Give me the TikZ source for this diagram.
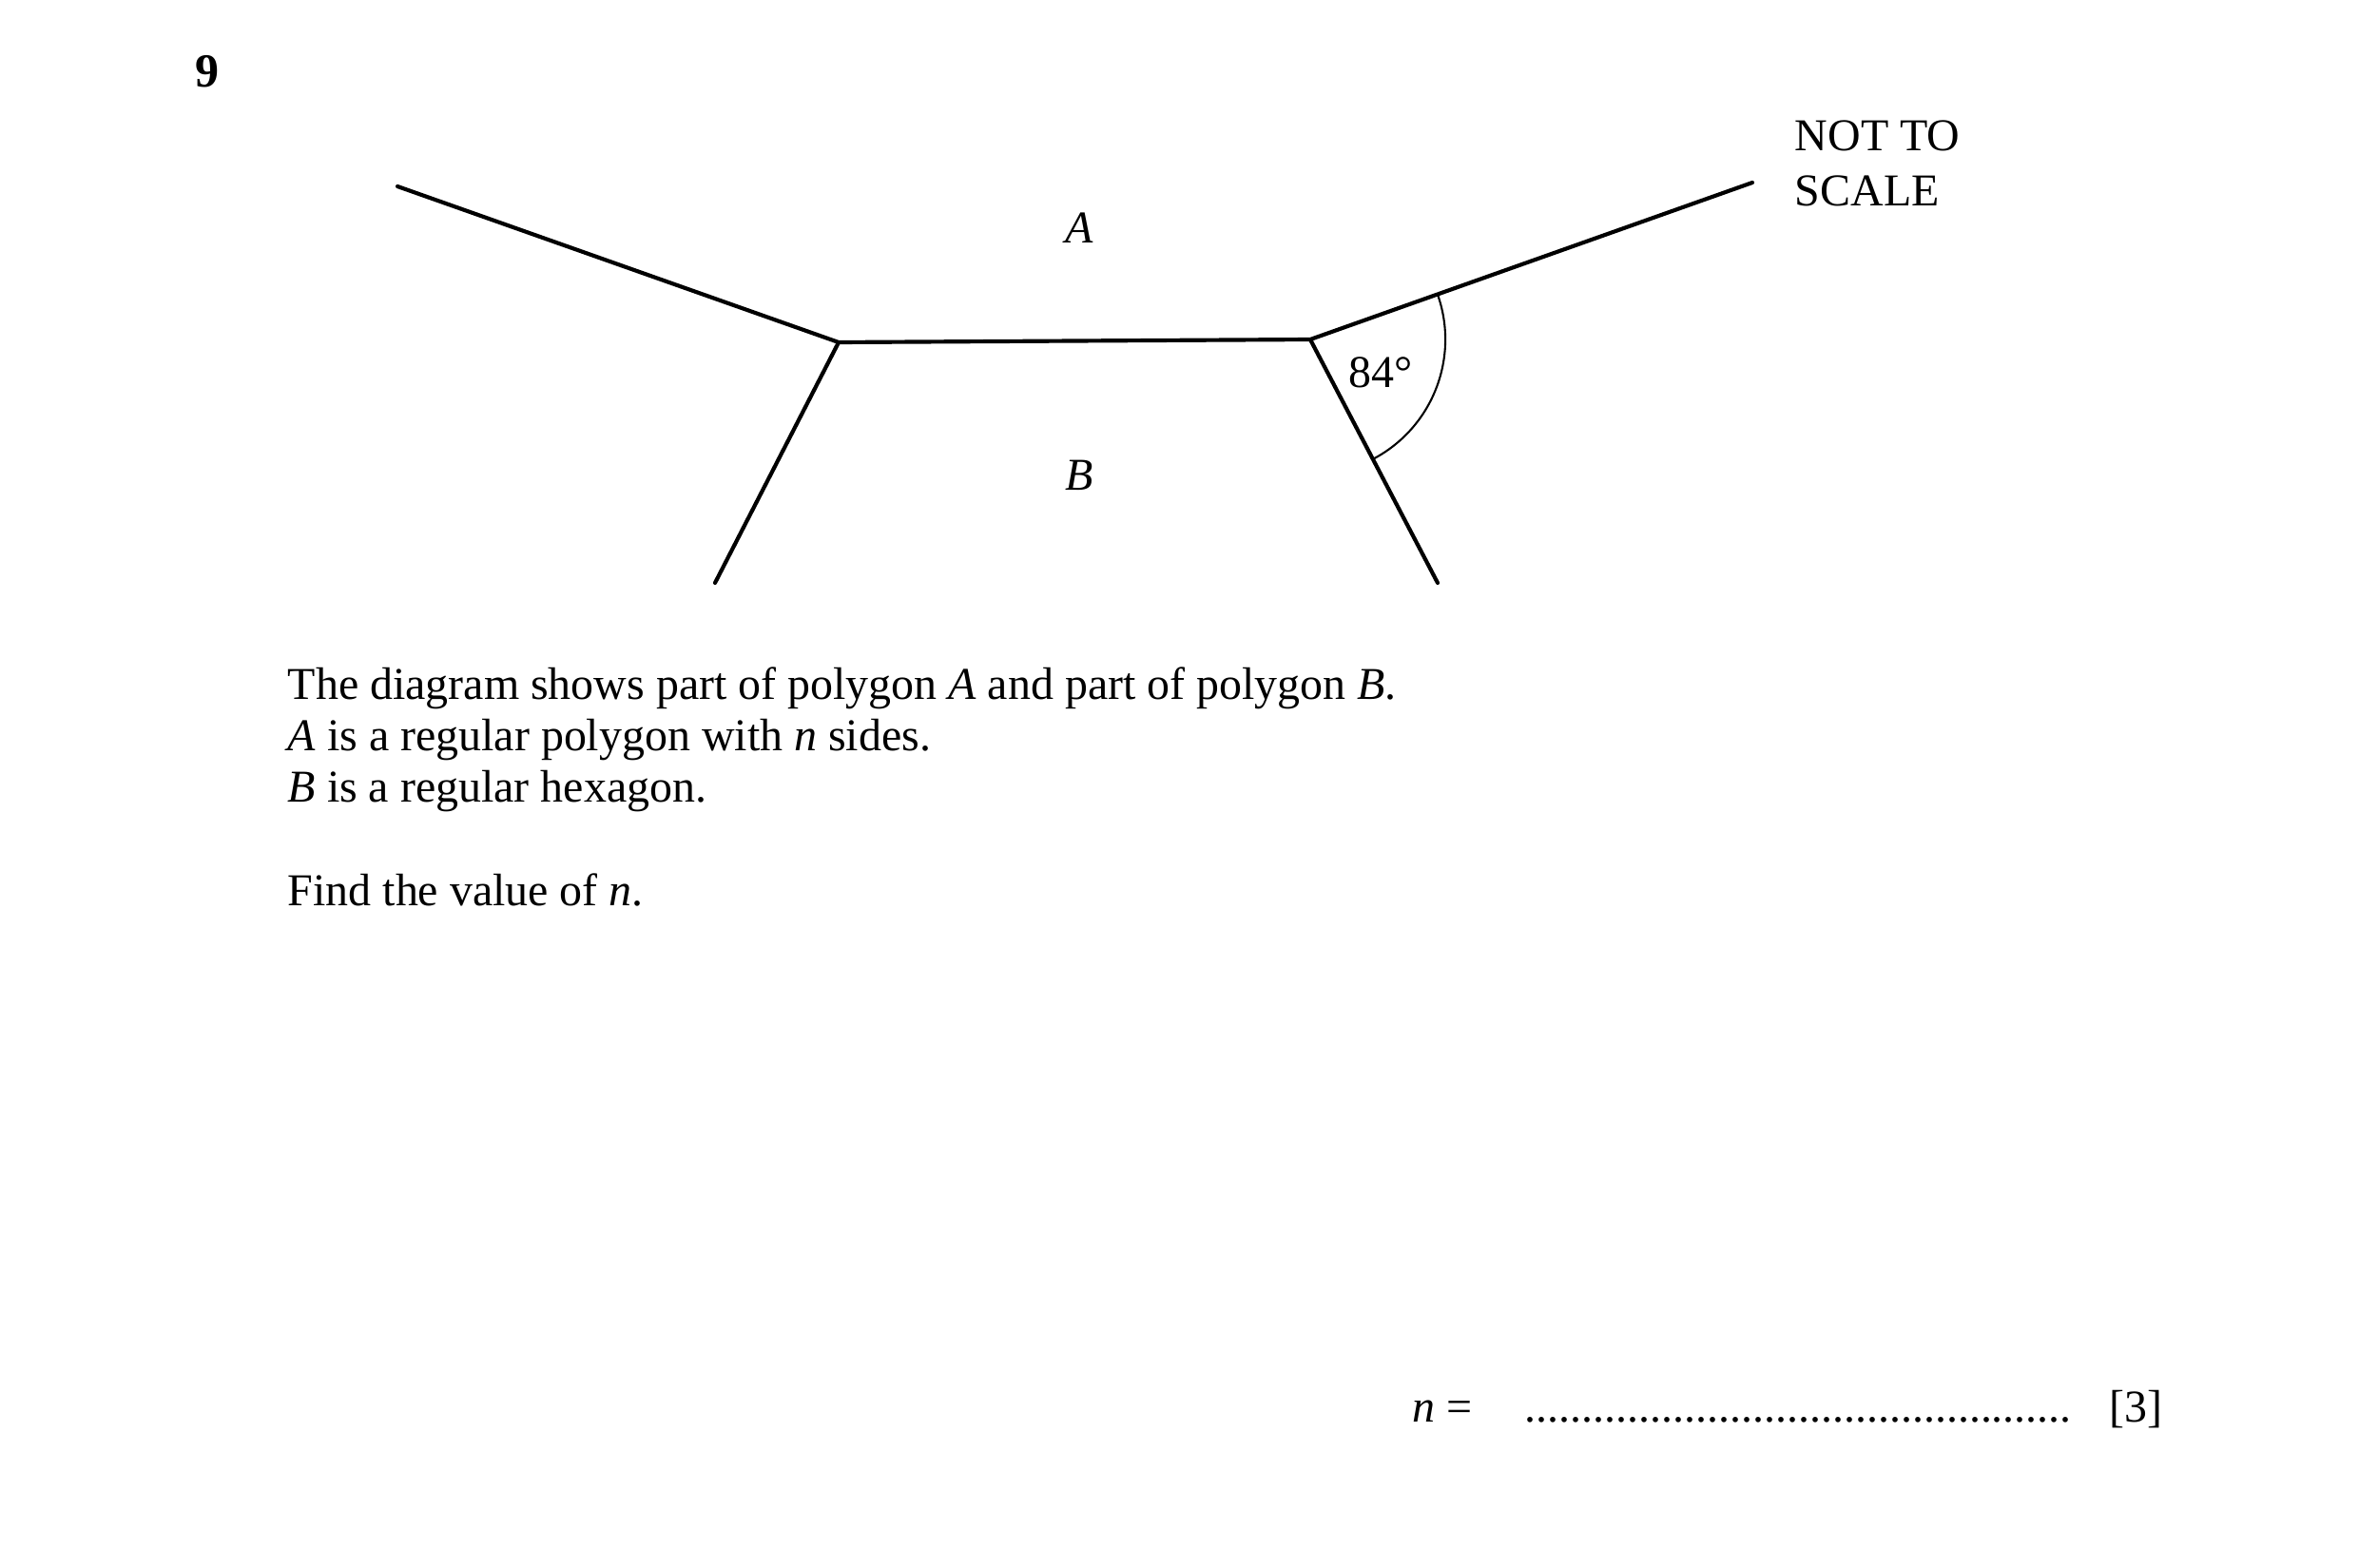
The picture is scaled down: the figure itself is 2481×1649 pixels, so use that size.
\documentclass[tikz,border=0pt]{standalone}
\usepackage{fontspec}
\setmainfont{Liberation Serif}
\usetikzlibrary{angles}
\begin{document}
\begin{tikzpicture}[x=0.24pt,y=-0.24pt,
  edge/.style={line width=1pt,line cap=round},
  txt/.style={inner sep=0pt,anchor=base west,font=\fontsize{11.5}{13}\selectfont},
  lbl/.style={inner sep=0pt,font=\fontsize{11.5}{13}\selectfont}]
\useasboundingbox (0,0) rectangle (2481,1649);
% question number
\node[inner sep=0pt,font=\fontsize{12}{14}\selectfont\bfseries] (num) at (218,75) {9};
% vertices
\coordinate (PL) at (882,360);
\coordinate (PR) at (1378,357);
\coordinate (UL) at (418,196);
\coordinate (UR) at (1843,192);
\coordinate (LL) at (752,613);
\coordinate (LR) at (1512,613);
\draw[edge] (UL) -- (PL) -- (PR) -- (UR);
\draw[edge] (PL) -- (LL);
\draw[edge] (PR) -- (LR);
\pic[draw,line width=0.5pt,angle radius=34.1pt] {angle = LR--PR--UR};
% labels
\node[lbl,font=\fontsize{11.5}{13}\selectfont\itshape] (labA) at (1135,240) {A};
\node[lbl,font=\fontsize{11.5}{13}\selectfont\itshape] (labB) at (1135,500) {B};
\node[lbl] (ang) at (1452,392) {84°};
\node[txt] (nts1) at (1887,158) {NOT TO};
\node[txt] (nts2) at (1887,216) {SCALE};
% question text
\node[txt] (t1) at (302,735) {The diagram shows part of polygon \textit{A} and part of polygon \textit{B}.};
\node[txt] (t2) at (302,789) {\textit{A} is a regular polygon with \textit{n} sides.};
\node[txt] (t3) at (302,843) {\textit{B} is a regular hexagon.};
\node[txt] (t4) at (302,952) {Find the value of \textit{n}.};
% answer line
\node[txt] (ans) at (1485,1495) {\textit{n} =};
\node[txt] (dots) at (1603,1495) {................................................};
\node[txt] (mark) at (2218,1495) {[3]};
\end{tikzpicture}
\end{document}
